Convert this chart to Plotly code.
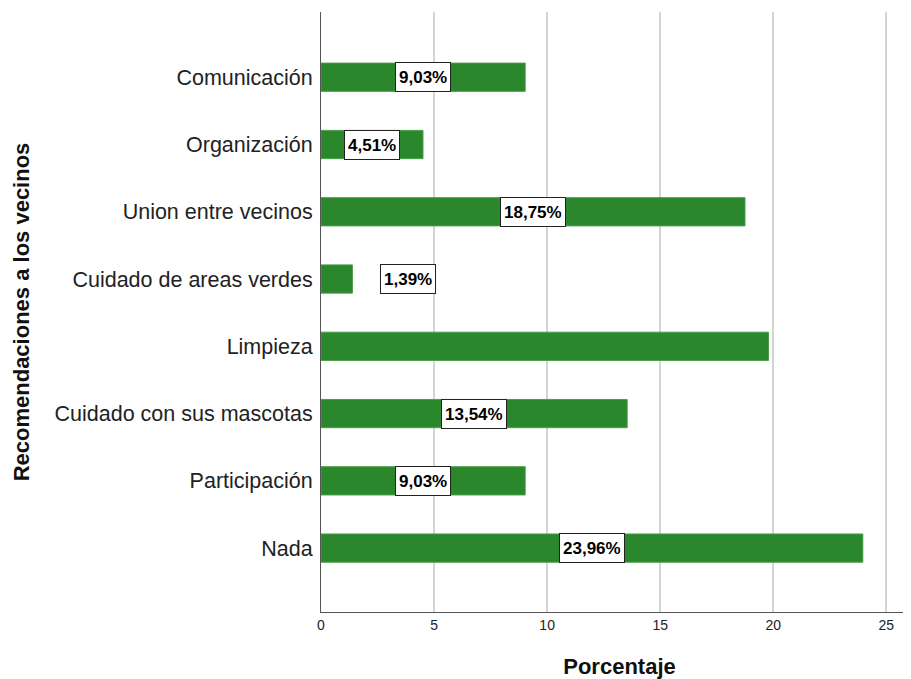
import plotly.graph_objects as go

categorias = ["Comunicación", "Organización", "Union entre vecinos", "Cuidado de areas verdes",
              "Limpieza", "Cuidado con sus mascotas", "Participación", "Nada"]
porcentajes = [9.03, 4.51, 18.75, 1.39, 19.79, 13.54, 9.03, 23.96]
etiquetas = ["9,03%", "4,51%", "18,75%", "1,39%", "", "13,54%", "9,03%", "23,96%"]

verde = "#2b872b"

fig = go.Figure(go.Bar(
    x=porcentajes, y=categorias, orientation="h",
    width=0.42,
    marker=dict(color=verde, line=dict(color="#4a9e4a", width=1)),
    hoverinfo="x+y",
))

# etiquetas en recuadro, centradas en la barra (o desplazadas si la barra es corta)
for cat, val, txt in zip(categorias, porcentajes, etiquetas):
    if not txt:
        continue
    xpos = val / 2 if val > 3 else 3.85
    fig.add_annotation(
        x=xpos, y=cat, text=f"<b>{txt}</b>", showarrow=False,
        font=dict(family="Liberation Sans Narrow, Arial Narrow, Liberation Sans", size=17, color="black"),
        height=22, bgcolor="white", bordercolor="#222", borderwidth=1, borderpad=3,
    )

fig.update_layout(
    width=911, height=679,
    plot_bgcolor="white", paper_bgcolor="white",
    margin=dict(l=313, r=1, t=4, b=75),
    font=dict(family="Liberation Sans, Arial", color="#222"),
    showlegend=False,
    bargap=0.58,
)
fig.update_xaxes(
    range=[0, 26.4], tickvals=[0, 5, 10, 15, 20, 25],
    showgrid=True, gridcolor="#d4d4d4", gridwidth=1.5,
    showline=True, linecolor="#555", linewidth=1,
    zeroline=False, ticks="",
    tickfont=dict(size=14, color="#222"),
    title=dict(text="<b>Porcentaje</b>", font=dict(size=22, color="#111"), standoff=26),
)
fig.update_yaxes(
    type="category", range=[7.95, -0.97],
    showgrid=False, showline=True, linecolor="#555", linewidth=1,
    ticks="", ticklabelstandoff=3,
    tickfont=dict(size=21.5, color="#222"),
    title=dict(text="<b>Recomendaciones a los vecinos</b>", font=dict(size=22, color="#111"), standoff=18),
)

fig.write_html("out.html")
